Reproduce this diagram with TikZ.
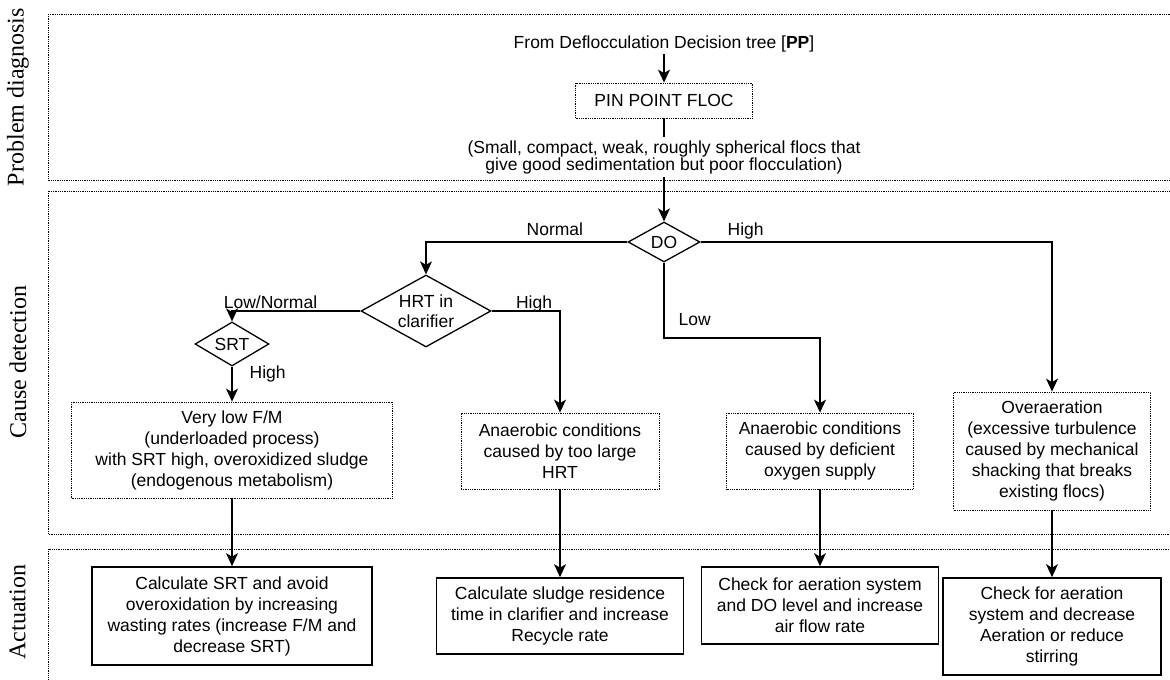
\documentclass[tikz,border=0pt]{standalone}
\usepackage{fontspec}
\setmainfont{Liberation Sans}
\newfontfamily\lserif{Liberation Serif}
\usetikzlibrary{shapes.geometric,arrows.meta}
\begin{document}
\begin{tikzpicture}[x=1pt,y=-1pt,
  every node/.style={font=\fontsize{17.5}{21}\selectfont, inner sep=0pt},
  panel/.style={densely dotted, line width=0.8pt},
  dbox/.style={draw, densely dotted, line width=0.8pt, align=center, inner sep=0pt},
  abox/.style={draw, line width=1.7pt, align=center, inner sep=0pt},
  dec/.style={draw, diamond, line width=1.3pt, aspect=1.8, align=center, inner sep=0pt},
  conn/.style={line width=1.3pt},
  arr/.style={conn, -{Stealth[length=13pt,width=12pt,inset=3.5pt]}},
  lbl/.style={font=\fontsize{17.5}{21}\selectfont, inner sep=0pt},
  side/.style={rotate=90, font=\lserif\fontsize{24}{28}\selectfont}
]
\useasboundingbox (0,0) rectangle (1170,680);
\clip (0,0) rectangle (1170,680);

% panels
\draw[panel] (48,14) rectangle (1200,180);
\draw[panel] (48,191) rectangle (1200,534);
\draw[panel] (48,549) rectangle (1200,700);

\node[side] (pdl) at (18,97) {Problem diagnosis};
\node[side] (cdl) at (18,362) {Cause detection};
\node[side] (acl) at (17.5,612) {Actuation};

% problem diagnosis
\node[inner sep=2pt] (src) at (664,44) {From Deflocculation Decision tree [\textbf{PP}]};
\node[dbox, minimum width=177pt, minimum height=35pt] (pin) at (664,100.5) {PIN POINT FLOC};
\node[font=\fontsize{17.5}{17}\selectfont, align=center, minimum height=40pt] (desc) at (664,157)
  {(Small, compact, weak, roughly spherical flocs that\\give good sedimentation but poor flocculation)};

% decisions
\node[dec, minimum width=72pt, minimum height=40pt] (do) at (664,242) {DO};
\node[dec, minimum width=130pt, minimum height=72pt, font=\fontsize{17.5}{20}\selectfont] (hrt) at (426,311) {HRT in\\clarifier};
\node[dec, minimum width=74pt, minimum height=44pt] (srt) at (232,344) {SRT};
\coordinate (lowbend) at (664,338);

% causes
\node[dbox, minimum width=321pt, minimum height=96pt] (ca) at (232,450)
  {Very low F/M\\(underloaded process)\\with SRT high, overoxidized sludge\\(endogenous metabolism)};
\node[dbox, minimum width=198pt, minimum height=76pt] (cb) at (560,451)
  {Anaerobic conditions\\caused by too large\\HRT};
\node[dbox, minimum width=187pt, minimum height=76pt] (cc) at (820,451)
  {Anaerobic conditions\\caused by deficient\\oxygen supply};
\node[dbox, minimum width=197pt, minimum height=118pt] (cd) at (1052,451)
  {Overaeration\\(excessive turbulence\\caused by mechanical\\shacking that breaks\\existing flocs)};

% actuation
\node[abox, minimum width=280pt, minimum height=98pt] (aa) at (232,616)
  {Calculate SRT and avoid\\overoxidation by increasing\\wasting rates (increase F/M and\\decrease SRT)};
\node[abox, minimum width=247pt, minimum height=76pt] (ab) at (560,616)
  {Calculate sludge residence\\time in clarifier and increase\\Recycle rate};
\node[abox, minimum width=237pt, minimum height=77pt] (ac) at (820,605.5)
  {Check for aeration system\\and DO level and increase\\air flow rate};
\node[abox, minimum width=218pt, minimum height=97pt] (ad) at (1052,626.5)
  {Check for aeration\\system and decrease\\Aeration or reduce\\stirring};

% connectors
\draw[arr] (src) -- (pin);
\draw[conn] (pin) -- (desc);
\draw[arr] (desc) -- (do);
\draw[arr] (do.west) -| node[lbl, pos=0.18, anchor=base, yshift=7pt] {Normal} (hrt.north);
\draw[arr] (do.east) -| node[lbl, pos=0.064, anchor=base, yshift=7pt] {High} (cd.north);
\draw[arr] (do.south) -- node[lbl, pos=0.76, anchor=west, xshift=14pt] {Low} (lowbend) -| (cc.north);
\draw[arr] (hrt.west) -| node[lbl, pos=0.35, anchor=base, yshift=3pt] {Low/Normal} (srt.north);
\draw[arr] (hrt.east) -| node[lbl, pos=0.31, anchor=base, yshift=3pt] {High} (cb.north);
\draw[arr] (srt.south) -- node[lbl, pos=0.22, anchor=west, xshift=17pt] {High} (srt.south |- ca.north);

\draw[arr] (ca.south) -- (ca.south |- aa.north);
\draw[arr] (cb.south) -- (cb.south |- ab.north);
\draw[arr] (cc.south) -- (cc.south |- ac.north);
\draw[arr] (cd.south) -- (cd.south |- ad.north);
\end{tikzpicture}
\end{document}
